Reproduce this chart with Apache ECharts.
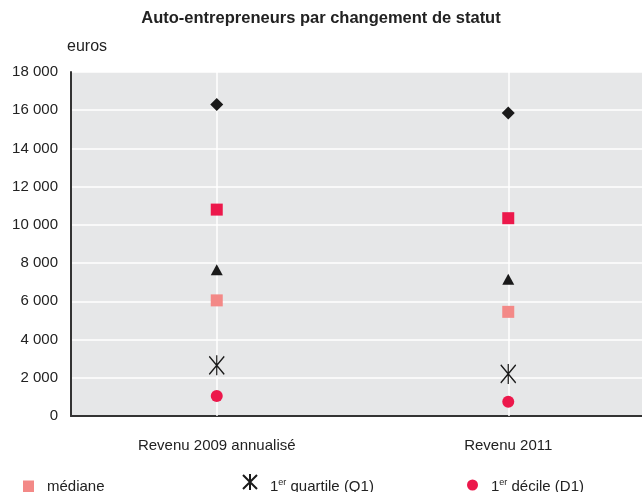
<!DOCTYPE html>
<html>
<head>
<meta charset="utf-8">
<script src="https://cdn.jsdelivr.net/npm/echarts@6/dist/echarts.min.js"></script>
<style>
  html, body { margin: 0; padding: 0; background: #fff; }
  #main { width: 642px; height: 492px; }
</style>
</head>
<body>
<div id="main"></div>
<script>
// catégories et valeurs (euros)
var categories = ['Revenu 2009 annualisé', 'Revenu 2011'];
var d9 = [16300, 15850];      // losange
var q3 = [10800, 10350];      // carré rouge
var moyenne = [7650, 7150];   // triangle
var mediane = [6050, 5450];
var q1 = [2650, 2200];
var d1 = [1050, 750];
var yTicks = [0, 2000, 4000, 6000, 8000, 10000, 12000, 14000, 16000, 18000];

var font = 'Liberation Sans, Arial, sans-serif';
var asterisk = 'path://M7,0L7,20M0,1L14,19M14,1L0,19';
// icônes de légende un peu remontées (point fantôme en bas)
var asteriskIcon = 'path://M7,0L7,16M0,1L14,15M14,1L0,15M7,26';
var circleIcon = 'path://M0,5.5A5.5,5.5,0,1,1,11,5.5A5.5,5.5,0,1,1,0,5.5ZM5.5,15';
var sup = { fontSize: 9, verticalAlign: 'top', padding: [0, 0, 9, 0], color: '#222', fontFamily: font };

var chart = echarts.init(document.getElementById('main'));

function fmt(v) {
  return String(v).replace(/\B(?=(\d{3})+(?!\d))/g, ' ');
}

chart.setOption({
  animation: false,
  textStyle: { fontFamily: font },
  title: {
    text: 'Auto-entrepreneurs par changement de statut',
    left: 'center',
    top: 5,
    textStyle: { fontSize: 16.5, fontWeight: 'bold', color: '#222', fontFamily: font }
  },
  grid: {
    left: 71, top: 72, bottom: 76, width: 583,
    outerBoundsMode: 'none',
    show: true, backgroundColor: '#e6e7e8', borderWidth: 0
  },
  legend: [
    {
      data: ['médiane'], left: 18, top: 474,
      itemWidth: 11, itemHeight: 12, itemGap: 0,
      textStyle: { fontSize: 15, color: '#222', padding: [0, 0, 0, 8] }
    },
    {
      data: [{ name: '1er quartile (Q1)', icon: asteriskIcon }], left: 237, top: 468,
      itemWidth: 14, itemHeight: 26,
      formatter: function () { return '1{s|er} quartile (Q1)'; },
      textStyle: { fontSize: 15, color: '#222', padding: [0, 0, 0, 8], rich: { s: sup } }
    },
    {
      data: [{ name: '1er décile (D1)', icon: circleIcon }], left: 462, top: 473,
      itemWidth: 11, itemHeight: 15,
      formatter: function () { return '1{s|er} décile (D1)'; },
      textStyle: { fontSize: 15, color: '#222', padding: [0, 0, 0, 8], rich: { s: sup } }
    }
  ],
  xAxis: {
    type: 'category',
    data: categories,
    boundaryGap: true,
    axisLine: { lineStyle: { color: '#333', width: 2 } },
    axisTick: { show: false },
    axisLabel: { fontSize: 15, color: '#222', margin: 22 },
    splitLine: { show: false }
  },
  yAxis: {
    type: 'value',
    min: 0, max: 18000, interval: 2000,
    name: 'euros',
    nameLocation: 'end',
    nameGap: 17,
    nameTextStyle: { fontSize: 16, color: '#222', align: 'left', padding: [0, 0, 0, -4] },
    axisLine: { show: true, lineStyle: { color: '#333', width: 2 } },
    axisTick: { show: false },
    axisLabel: { fontSize: 15, color: '#222', margin: 13, formatter: fmt },
    splitLine: { lineStyle: { color: '#ffffff', width: 1.5 } }
  },
  series: [
    {
      name: 'guides', type: 'scatter', data: [], z: 1, silent: true,
      markLine: {
        silent: true, symbol: 'none', label: { show: false }, z: 1,
        lineStyle: { color: '#ffffff', width: 1.5, type: 'solid' },
        data: [{ xAxis: 0 }, { xAxis: 1 }]
      }
    },
    {
      name: '9e décile (D9)', type: 'scatter', data: d9, z: 3,
      symbol: 'diamond', symbolSize: [13, 13],
      itemStyle: { color: '#1a1a1a', opacity: 1 }
    },
    {
      name: '3e quartile (Q3)', type: 'scatter', data: q3, z: 3,
      symbol: 'rect', symbolSize: 12,
      itemStyle: { color: '#ec184b', opacity: 1 }
    },
    {
      name: 'moyenne', type: 'scatter', data: moyenne, z: 3,
      symbol: 'triangle', symbolSize: [12, 11],
      itemStyle: { color: '#1a1a1a', opacity: 1 }
    },
    {
      name: 'médiane', type: 'scatter', data: mediane, z: 3,
      symbol: 'rect', symbolSize: 12,
      itemStyle: { color: '#f38987', opacity: 1 }
    },
    {
      name: '1er quartile (Q1)', type: 'scatter', data: q1, z: 3,
      symbol: asterisk, symbolSize: [15, 20],
      itemStyle: { color: 'transparent', borderColor: '#1a1a1a', borderWidth: 1.4, opacity: 1 }
    },
    {
      name: '1er décile (D1)', type: 'scatter', data: d1, z: 3,
      symbol: 'circle', symbolSize: 12,
      itemStyle: { color: '#ec184b', opacity: 1 }
    }
  ]
});
</script>
</body>
</html>
